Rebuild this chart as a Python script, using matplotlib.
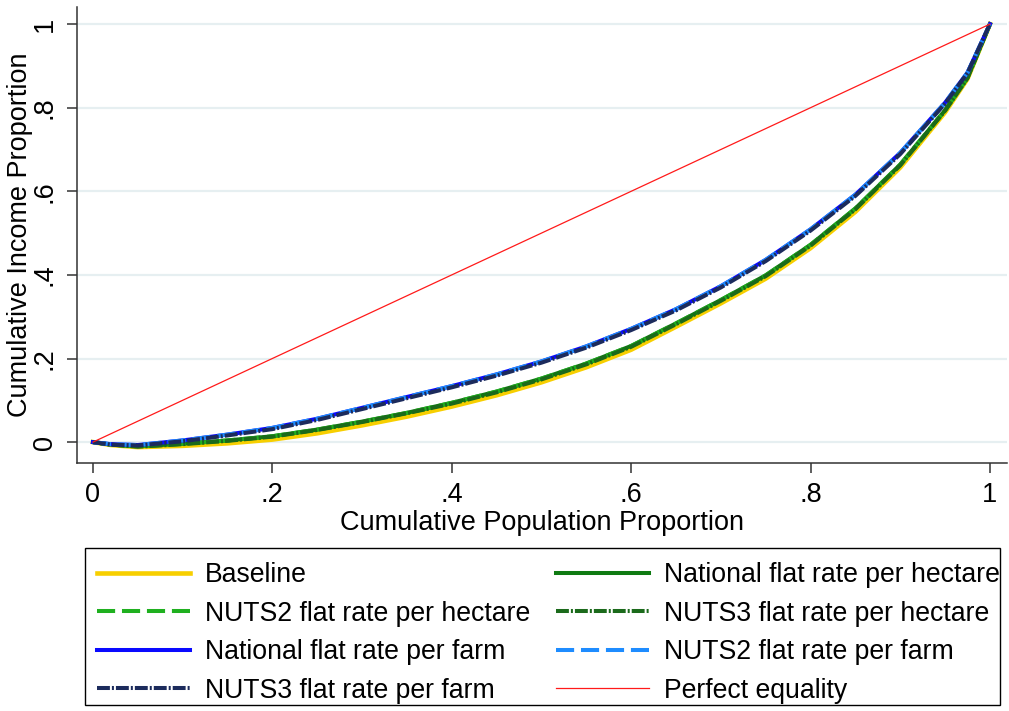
import numpy as np
import matplotlib.pyplot as plt
from matplotlib.patches import Rectangle

plt.rcParams['font.family'] = ['Liberation Sans', 'DejaVu Sans']

# cumulative population share
pop = [0, 0.02, 0.05, 0.1, 0.15, 0.2, 0.25, 0.3, 0.35, 0.4, 0.45, 0.5, 0.55,
       0.6, 0.65, 0.7, 0.75, 0.8, 0.85, 0.9, 0.95, 0.975, 1.0]

# cumulative income share per scenario
baseline   = [0, -0.007, -0.012, -0.009, -0.003, 0.006, 0.021, 0.040, 0.061, 0.085, 0.112, 0.143, 0.179,
              0.221, 0.276, 0.332, 0.391, 0.464, 0.551, 0.657, 0.789, 0.869, 1.0]
nat_ha     = [0, -0.006, -0.010, -0.004, 0.004, 0.014, 0.030, 0.049, 0.070, 0.094, 0.121, 0.152, 0.188,
              0.230, 0.284, 0.340, 0.399, 0.472, 0.559, 0.664, 0.794, 0.872, 1.0]
nuts2_ha   = [0, -0.006, -0.010, -0.004, 0.004, 0.014, 0.030, 0.049, 0.070, 0.094, 0.121, 0.152, 0.188,
              0.230, 0.284, 0.340, 0.399, 0.472, 0.559, 0.664, 0.794, 0.872, 1.0]
nuts3_ha   = [0, -0.006, -0.011, -0.005, 0.003, 0.013, 0.029, 0.048, 0.069, 0.092, 0.119, 0.150, 0.186,
              0.228, 0.282, 0.338, 0.397, 0.470, 0.557, 0.662, 0.793, 0.871, 1.0]
nat_farm   = [0, -0.005, -0.007, 0.004, 0.018, 0.034, 0.056, 0.082, 0.108, 0.134, 0.162, 0.193, 0.229,
              0.271, 0.318, 0.373, 0.436, 0.509, 0.592, 0.692, 0.812, 0.884, 1.0]
nuts2_farm = [0, -0.005, -0.007, 0.004, 0.018, 0.034, 0.056, 0.082, 0.108, 0.134, 0.162, 0.193, 0.229,
              0.271, 0.318, 0.373, 0.436, 0.509, 0.592, 0.692, 0.812, 0.884, 1.0]
nuts3_farm = [0, -0.006, -0.008, 0.002, 0.016, 0.031, 0.053, 0.079, 0.105, 0.131, 0.159, 0.190, 0.226,
              0.268, 0.315, 0.370, 0.433, 0.506, 0.589, 0.689, 0.810, 0.883, 1.0]
equality_x = [0, 1.0]
equality   = [0, 1.0]

W, H = 1009, 711
fig = plt.figure(figsize=(W / 100, H / 100), dpi=100)
ax = fig.add_axes([0.0763, 0.3488, 0.9217, 0.6414])

fs = 19.5
lw = 2.9
l_base, = ax.plot(pop, baseline, color='#f7cf00', lw=lw + 0.4, label='Baseline')
l_natha, = ax.plot(pop, nat_ha, color='#0f7a12', lw=lw, label='National flat rate per hectare')
l_n2ha, = ax.plot(pop, nuts2_ha, color='#1fb01f', lw=lw, dashes=(4.5, 1.7), label='NUTS2 flat rate per hectare')
l_n3ha, = ax.plot(pop, nuts3_ha, color='#1b6a1b', lw=lw, dashes=(3.2, 0.5, 0.5, 0.5), label='NUTS3 flat rate per hectare')
l_natf, = ax.plot(pop, nat_farm, color='#0a0aff', lw=lw, label='National flat rate per farm')
l_n2f, = ax.plot(pop, nuts2_farm, color='#1e8cff', lw=lw, dashes=(4.5, 1.7), label='NUTS2 flat rate per farm')
l_n3f, = ax.plot(pop, nuts3_farm, color='#1c2b5c', lw=lw, dashes=(3.2, 0.5, 0.5, 0.5), label='NUTS3 flat rate per farm')
l_eq, = ax.plot(equality_x, equality, color='#ff1a1a', lw=0.9, label='Perfect equality')

ax.set_xlim(-0.0178, 1.019)
ax.set_ylim(-0.050, 1.041)

ticks = [0, 0.2, 0.4, 0.6, 0.8, 1]
labels = ['0', '.2', '.4', '.6', '.8', '1']
ax.set_xticks(ticks)
ax.set_xticklabels(labels, fontsize=fs)
ax.set_yticks(ticks)
ax.set_yticklabels(labels, fontsize=fs, rotation=90, va='center')
ax.tick_params(axis='both', length=7, width=1.1, color='#333333', direction='out')
ax.tick_params(axis='x', pad=7)
ax.tick_params(axis='y', pad=7)

ax.grid(axis='y', color='#e6eff1', lw=1.6)
ax.set_axisbelow(True)
for s in ['top', 'right']:
    ax.spines[s].set_visible(False)
for s in ['left', 'bottom']:
    ax.spines[s].set_color('#333333')
    ax.spines[s].set_linewidth(1.1)

ax.set_xlabel('Cumulative Population Proportion', fontsize=fs, labelpad=1)
ax.set_ylabel('Cumulative Income Proportion', fontsize=fs)
ax.yaxis.set_label_coords(-0.0475, 0.5)

# legend fills column-wise, so order handles to read row-wise like the original
handles = [l_base, l_n2ha, l_natf, l_n3f, l_natha, l_n3ha, l_n2f, l_eq]
leg = fig.legend(handles=handles, loc='upper left', ncol=2,
                 bbox_to_anchor=(97 / W, 1 - 562 / H),
                 fontsize=19.2, frameon=False,
                 handlelength=3.5, handletextpad=0.55, columnspacing=0.95,
                 labelspacing=0.47, borderaxespad=0, borderpad=0)
# legend box as in the original, a bit narrower than its text
fig.add_artist(Rectangle((85 / W, 1 - 705 / H), 915 / W, 157 / H, transform=fig.transFigure,
                         fill=False, ec='black', lw=1.0))

fig.savefig('out.png', dpi=100)
